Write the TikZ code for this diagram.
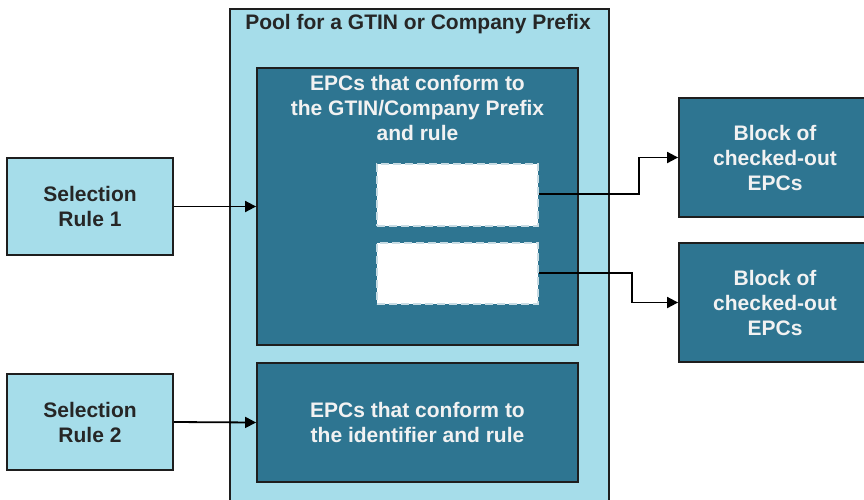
\documentclass[tikz,border=0pt]{standalone}
\usepackage{fontspec}
\setmainfont{Liberation Sans}
\usetikzlibrary{arrows.meta}
\definecolor{lightb}{RGB}{166,221,234}
\definecolor{darkb}{RGB}{46,117,145}
\definecolor{edge}{RGB}{30,30,30}
\definecolor{dashc}{RGB}{200,220,228}
\begin{document}
\begin{tikzpicture}[x=1pt,y=-1pt,
  txt/.style={font=\fontsize{21}{25}\selectfont\bfseries, align=center},
  lightbox/.style={draw=edge, line width=1.8pt, fill=lightb, text=black!85, txt, inner sep=0pt},
  darkbox/.style={draw=edge, line width=1.8pt, fill=darkb, text=white!95!black, txt, inner sep=0pt},
  slot/.style={draw=dashc, dashed, dash pattern=on 8pt off 4pt, line width=1.8pt, fill=white, inner sep=0pt},
  conn/.style={draw=black, line width=1.8pt, -{Triangle[length=11pt,width=11pt]}}
]
\useasboundingbox (0,0) rectangle (864,499);
\clip (0,0) rectangle (864,499);
\node[lightbox, minimum width=379pt, minimum height=510pt, anchor=north west] (pool) at (229,8) {};
\node[txt, text=black!85, anchor=north] (pooltitle) at (418,11) {Pool for a GTIN or Company Prefix};
\node[darkbox, minimum width=321pt, minimum height=277pt] (in1) at (417.5,206.5) {};
\node[txt, text=white!95!black, anchor=north] (in1t) at (417.5,72) {EPCs that conform to\\the GTIN/Company Prefix\\and rule};
\node[darkbox, minimum width=321pt, minimum height=119pt] (in2) at (417.5,422.5) {EPCs that conform to\\the identifier and rule};
\node[slot, minimum width=161pt, minimum height=62pt] (w1) at (457.5,195) {};
\node[slot, minimum width=161pt, minimum height=61pt] (w2) at (457.5,273.5) {};
\node[lightbox, minimum width=166pt, minimum height=97pt] (s1) at (90,206.5) {Selection\\Rule 1};
\node[lightbox, minimum width=166pt, minimum height=96pt] (s2) at (90,422) {Selection\\Rule 2};
\node[darkbox, minimum width=192pt, minimum height=119pt] (b1) at (775,157.5) {Block of\\checked-out\\EPCs};
\node[darkbox, minimum width=192pt, minimum height=119pt] (b2) at (775,302.5) {Block of\\checked-out\\EPCs};
\coordinate (c1) at (639,194);
\coordinate (c2) at (632,273);
\draw[conn] (s1.east) -- (in1.west);
\draw[conn] (s2.east) -- (in2.west);
\draw[conn] (w1.east |- c1) -- (c1) |- (b1.west);
\draw[conn] (w2.east |- c2) -- (c2) |- (b2.west);
\end{tikzpicture}
\end{document}
